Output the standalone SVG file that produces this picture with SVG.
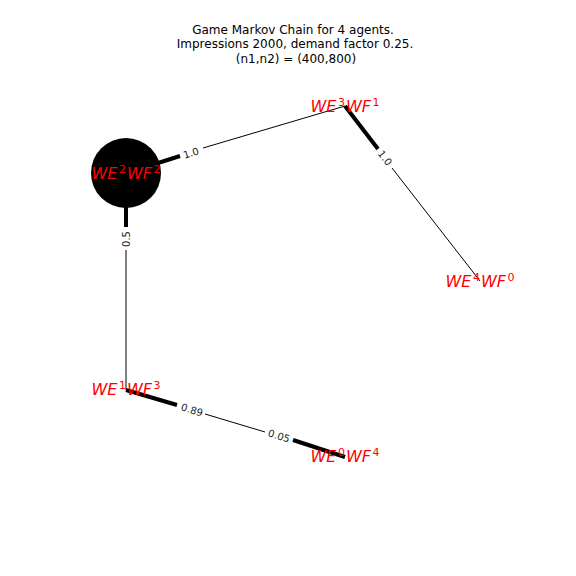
<svg xmlns="http://www.w3.org/2000/svg" width="576" height="576" viewBox="0 0 576 576">
<style>
.title{font-family:"DejaVu Sans",sans-serif;font-size:12px;fill:#000;text-anchor:middle}
.thin{stroke:#000;stroke-width:1;fill:none}
.thick{stroke:#000;stroke-width:4;fill:none}
.el{font-family:"DejaVu Sans",sans-serif;font-size:10px;fill:#222;text-anchor:middle;dominant-baseline:central}
.nl{font-family:"DejaVu Sans",sans-serif;font-style:oblique;font-size:16px;fill:#ff0000;text-anchor:middle}
.sup{font-size:11px;font-style:normal}
</style>
<rect width="576" height="576" fill="#fff"/>
<g id="title">
<text class="title" x="293" y="34">Game Markov Chain for 4 agents.</text>
<text class="title" x="295" y="48">Impressions 2000, demand factor 0.25.</text>
<text class="title" x="296" y="63">(n1,n2) = (400,800)</text>
</g>
<g id="node-WE2WF2"><circle cx="126" cy="173" r="35" fill="#000"/></g>
<g id="connectors">
<line class="thin" x1="203" y1="148" x2="345" y2="106"/>
<line class="thick" x1="158" y1="163" x2="180" y2="156"/>
<text class="el" transform="translate(191,153) rotate(-17)">1.0</text>
<line class="thick" x1="345" y1="106" x2="378" y2="149"/>
<line class="thin" x1="392" y1="168" x2="480" y2="281"/>
<text class="el" transform="translate(385,158) rotate(52.4)">1.0</text>
<line class="thick" x1="126" y1="207" x2="126" y2="227"/>
<line class="thin" x1="126" y1="250" x2="126" y2="390"/>
<text class="el" transform="translate(126,239) rotate(-90)">0.5</text>
<line class="thick" x1="126" y1="390" x2="177" y2="405"/>
<line class="thin" x1="205" y1="414" x2="265" y2="432"/>
<line class="thick" x1="293" y1="440" x2="345" y2="457"/>
<text class="el" transform="translate(192,410) rotate(17)">0.89</text>
<text class="el" transform="translate(279,436) rotate(17)">0.05</text>
</g>
<g id="label-WE2WF2"><text class="nl" x="126" y="179">WE<tspan class="sup" dx="1.5" dy="-6">2</tspan><tspan dx="1" dy="6">WF</tspan><tspan class="sup" dx="1.5" dy="-6">2</tspan></text></g>
<g id="node-WE3WF1"><text class="nl" x="345" y="112">WE<tspan class="sup" dx="1.5" dy="-6">3</tspan><tspan dx="1" dy="6">WF</tspan><tspan class="sup" dx="1.5" dy="-6">1</tspan></text></g>
<g id="node-WE4WF0"><text class="nl" x="480" y="287">WE<tspan class="sup" dx="1.5" dy="-6">4</tspan><tspan dx="1" dy="6">WF</tspan><tspan class="sup" dx="1.5" dy="-6">0</tspan></text></g>
<g id="node-WE1WF3"><text class="nl" x="126" y="395">WE<tspan class="sup" dx="1.5" dy="-6">1</tspan><tspan dx="1" dy="6">WF</tspan><tspan class="sup" dx="1.5" dy="-6">3</tspan></text></g>
<g id="node-WE0WF4"><text class="nl" x="345" y="462">WE<tspan class="sup" dx="1.5" dy="-6">0</tspan><tspan dx="1" dy="6">WF</tspan><tspan class="sup" dx="1.5" dy="-6">4</tspan></text></g>
</svg>
